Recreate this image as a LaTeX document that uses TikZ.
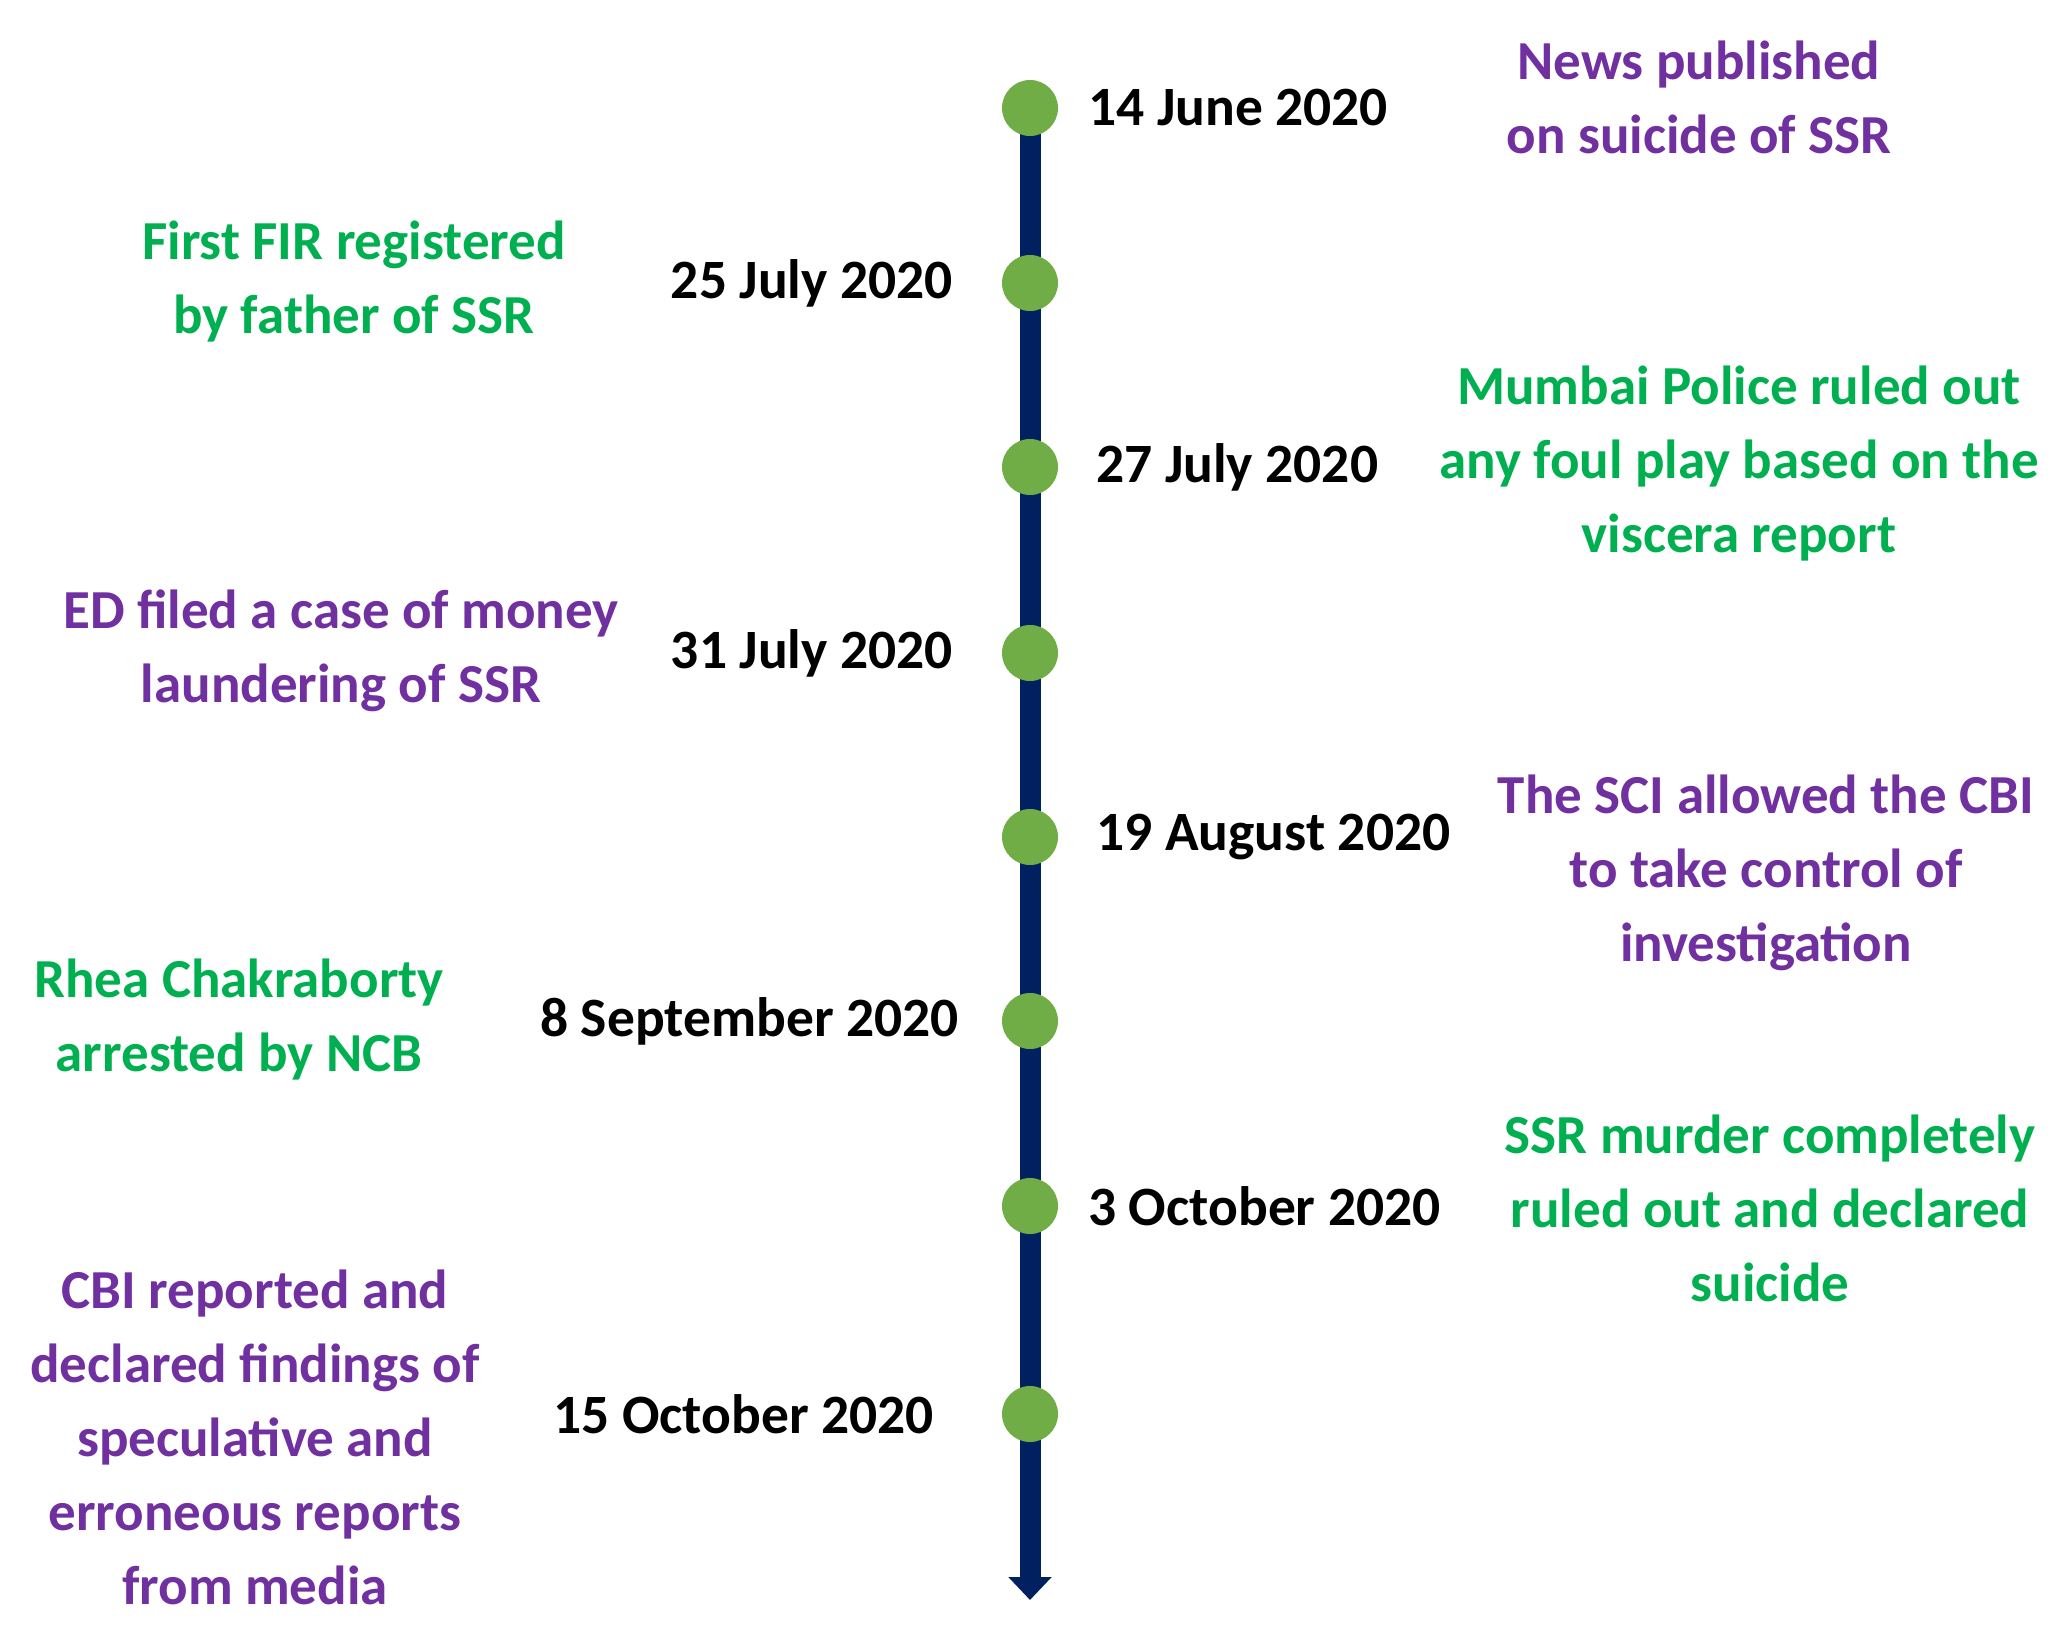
\documentclass[tikz,border=0pt]{standalone}
\usepackage{fontspec}
\setmainfont{Carlito}
\usetikzlibrary{arrows.meta,backgrounds}
\definecolor{evpurple}{HTML}{7030A0}
\definecolor{evgreen}{HTML}{00B050}
\definecolor{dotgreen}{HTML}{70AD47}
\definecolor{linenavy}{HTML}{002060}
\tikzset{
  dot/.style={circle,fill=dotgreen,inner sep=0pt,minimum size=56pt},
  datelbl/.style={font=\fontsize{55.5}{68}\selectfont\bfseries,text=black,inner sep=0pt},
  evtext/.style={font=\fontsize{55}{74}\selectfont\bfseries,align=center,inner sep=0pt},
  evp/.style={evtext,text=evpurple},
  evg/.style={evtext,text=evgreen},
}
\begin{document}
\begin{tikzpicture}[x=1pt,y=-1pt]
\useasboundingbox (0,0) rectangle (2063,1637);
% dots
\node[dot] (d1) at (1030,108) {};
\node[dot] (d2) at (1030,283) {};
\node[dot] (d3) at (1030,467) {};
\node[dot] (d4) at (1030,653) {};
\node[dot] (d5) at (1030,837) {};
\node[dot] (d6) at (1030,1021) {};
\node[dot] (d7) at (1030,1206) {};
\node[dot] (d8) at (1030,1414) {};
\coordinate (tip) at (1030,1600);
% timeline line under the dots
\begin{scope}[on background layer]
\draw[linenavy,line width=21pt,-{Triangle[width=42pt,length=23pt]}] (d1.center) -- (tip);
\end{scope}
% dates
\node[datelbl,anchor=west] (t1) at (1088,108) {14 June 2020};
\node[datelbl,anchor=east] (t2) at (953,283) {25 July 2020};
\node[datelbl,anchor=west] (t3) at (1096,467) {27 July 2020};
\node[datelbl,anchor=east] (t4) at (953,653) {31 July 2020};
\node[datelbl,anchor=west] (t5) at (1096,837) {19 August 2020};
\node[datelbl,anchor=east] (t6) at (959,1021) {8 September 2020};
\node[datelbl,anchor=west] (t7) at (1088,1206) {3 October 2020};
\node[datelbl,anchor=east] (t8) at (934,1414) {15 October 2020};
% events
\node[evp] (e1) at (1699,97) {News published\\on suicide of SSR};
\node[evg] (e2) at (354,282) {First FIR registered\\by father of SSR};
\node[evg] (e3) at (1739,464) {Mumbai Police ruled out\\any foul play based on the\\viscera report};
\node[evp] (e4) at (341,651) {ED filed a case of money\\laundering of SSR};
\node[evp] (e5) at (1766,873) {The SCI allowed the CBI\\to take control of\\investigation};
\node[evg] (e6) at (239,1020) {Rhea Chakraborty\\arrested by NCB};
\node[evg] (e7) at (1770,1208) {SSR murder completely\\ruled out and declared\\suicide};
\node[evp] (e8) at (255,1437) {CBI reported and\\declared findings of\\speculative and\\erroneous reports\\from media};
\end{tikzpicture}
\end{document}
